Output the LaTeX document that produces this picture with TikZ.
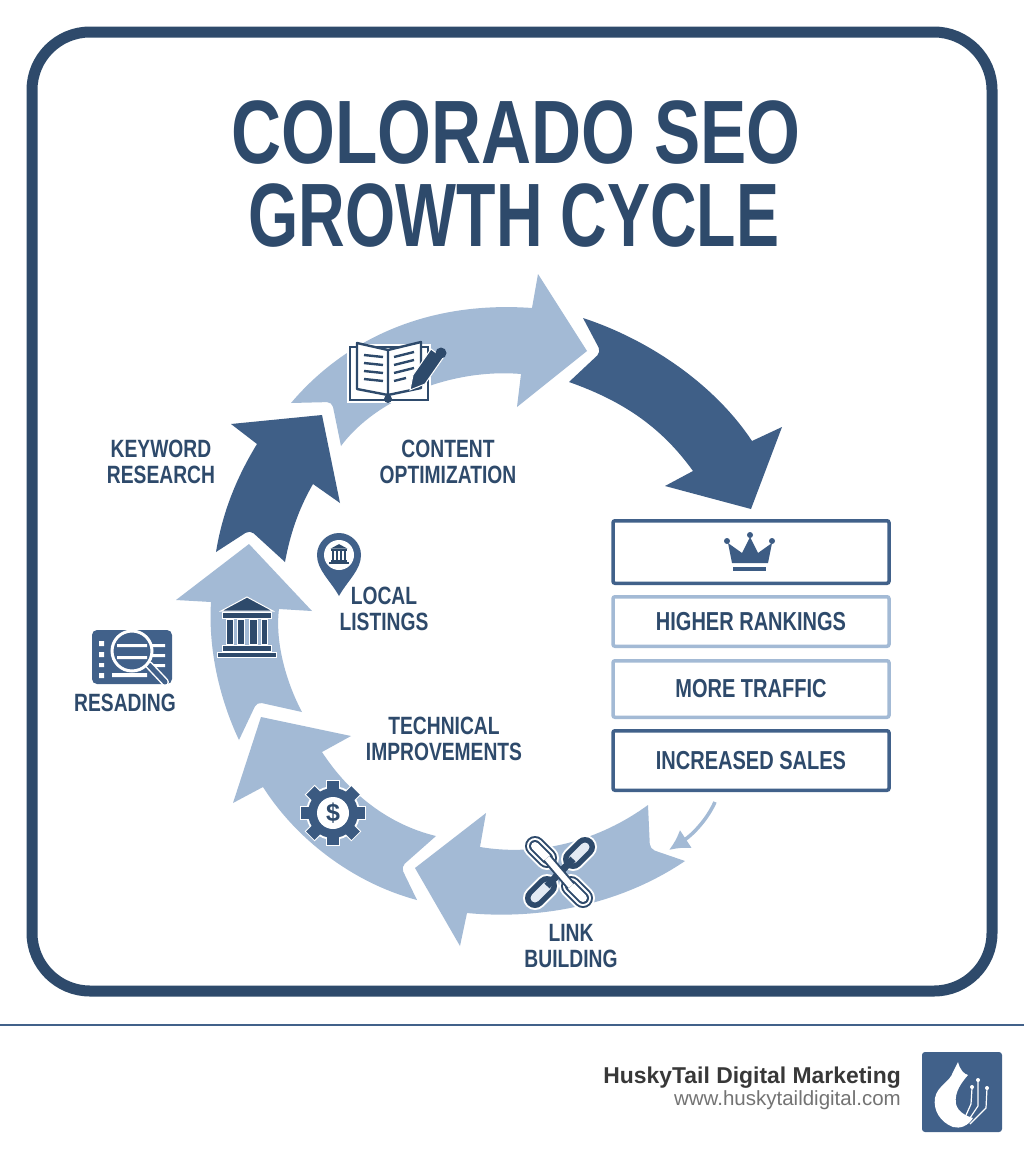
\documentclass[tikz,border=0pt]{standalone}
\usepackage{fontspec}
\setmainfont{Liberation Sans}
\newfontfamily\headfont[FakeStretch=0.77]{Liberation Sans}
\newfontfamily\narrowfont[FakeStretch=0.717]{Liberation Sans}
\usepackage{tikz}
\usetikzlibrary{arrows.meta,positioning}
\definecolor{navy}{HTML}{2E4A6B}
\definecolor{steel}{HTML}{41618A}
\definecolor{sky}{HTML}{A3BAD5}
\tikzset{
    %Define style for the cycle arrows
    lightarrow/.style={fill=sky, draw=none},
    darkarrow/.style={fill=steel!90!navy, draw=none},
    %Define style for text
    titletext/.style={
           text=navy,
           inner sep=0pt,
           font=\headfont\bfseries\fontsize{90}{90}\selectfont},
    steplabel/.style={
           text=navy,
           align=center,
           inner sep=0pt,
           font=\headfont\bfseries\fontsize{25}{26}\selectfont},
    %Define style for boxes
    darkbox/.style={
           rectangle,
           rounded corners=2pt,
           draw=steel, line width=3.5pt,
           minimum width=276pt,
           text=navy,
           font=\headfont\bfseries\fontsize{26}{26}\selectfont},
    lightbox/.style={
           darkbox,
           draw=sky},
    %Define style for icons
    iconline/.style={draw=navy, line width=2.4pt},
    bankpart/.style={fill=navy, draw=white, line width=1pt},
    chainhalo/.style={draw=white, line width=24pt, line cap=round},
    chaindark/.style={draw=navy, line width=20pt, line cap=round},
    bankicon/.pic={
           \path[bankpart] (0,-33) -- (-26,-19) -- (26,-19) -- cycle;
           \path[bankpart] (-25,-18) rectangle (24,-12);
           \path[bankpart] (-21,-11) rectangle (-14,14);
           \path[bankpart] (-10,-11) rectangle (-3,14);
           \path[bankpart] (2,-11) rectangle (10,14);
           \path[bankpart] (14,-11) rectangle (20,14);
           \path[bankpart] (-25,15) rectangle (24,21);
           \path[bankpart] (-30,22) rectangle (29,27);}
}

\begin{document}
\begin{tikzpicture}[x=1pt,y=-1pt]
\useasboundingbox (0,0) rectangle (1024,1154);
\fill[white] (0,0) rectangle (1024,1154);
\draw[navy, line width=11pt, rounded corners=58pt] (32,32) rectangle (992,991);
\node[titletext](title1) at (516,133){COLORADO SEO};
\node[titletext, font=\narrowfont\bfseries\fontsize{90}{90}\selectfont](title2) at (514,216){GROWTH CYCLE};
% cycle arrows
\fill[lightarrow] (538,274) -- (587,351) -- (517,407) -- (521,374)
    .. controls (450,368) and (375,400) .. (341,446) [rounded corners=5pt] -- (332,402) [sharp corners] -- (291,403)
    .. controls (340,345) and (420,300) .. (532,308) -- cycle;
\fill[darkarrow] (583,318) .. controls (650,340) and (715,385) .. (752,441)
    -- (782,427) -- (751,509) -- (665,486) -- (693,471)
    .. controls (660,425) and (620,400) .. (569,382) [rounded corners=5pt] -- (601,352) [sharp corners] -- cycle;
\fill[darkarrow] (322,415) -- (231,424) -- (257,444)
    .. controls (235,480) and (222,515) .. (216,552) [rounded corners=5pt] -- (250,530) [sharp corners] -- (285,562)
    .. controls (290,535) and (298,510) .. (313,484) -- (340,503) -- cycle;
\fill[lightarrow] (249,544) -- (176,600) -- (211,602)
    .. controls (208,650) and (220,700) .. (239,740) [rounded corners=5pt] -- (257,702) [sharp corners] -- (302,712)
    .. controls (285,680) and (275,640) .. (279,609) -- (312,611) -- cycle;
\fill[lightarrow] (261,717) -- (351,736) -- (322,752)
    .. controls (350,795) and (390,825) .. (436,836) [rounded corners=5pt] -- (401,867) [sharp corners] -- (417,900)
    .. controls (360,885) and (300,845) .. (263,787) -- (233,803) -- cycle;
\fill[lightarrow] (415,868) -- (486,813) -- (480,847)
    .. controls (540,857) and (600,840) .. (648,805) [rounded corners=5pt] -- (650,849) [sharp corners] -- (685,861)
    .. controls (620,905) and (540,920) .. (467,913) -- (460,946) -- cycle;
% result boxes
\node[darkbox, minimum height=62.5pt](crownbox) at (751,552){};
\node[lightbox, minimum height=49.5pt, below=10pt of crownbox](rankbox){HIGHER RANKINGS};
\node[lightbox, minimum height=56.5pt, below=11pt of rankbox](trafficbox){MORE TRAFFIC};
\node[darkbox, minimum height=59.5pt, below=10pt of trafficbox](salesbox){INCREASED SALES};
\coordinate (swoopstart) at (715,802);
\coordinate (swoopend) at (669,850);
\draw[sky, line width=3.5pt, -{Latex[length=20pt,width=22pt]}] (swoopstart)
    .. controls (707,820) and (692,835) .. (swoopend);
% crown
\fill[steel!80!navy] (732,563) -- (728,543) -- (742,553) -- (750,537) -- (758,553)
    -- (772,543) -- (768,563) -- cycle;
\fill[steel!80!navy] (727,541) circle (3pt) (750,535) circle (3pt) (772,541) circle (3pt);
\fill[steel!80!navy] (733,567) rectangle (766,571);
% step labels
\node[steplabel](keyword) at (161,462){KEYWORD\\RESEARCH};
\node[steplabel](content) at (448,462){CONTENT\\OPTIMIZATION};
\node[steplabel](local) at (384,609){LOCAL\\LISTINGS};
\node[steplabel](resading) at (125,703){RESADING};
\node[steplabel](technical) at (444,739){TECHNICAL\\IMPROVEMENTS};
\node[steplabel](link) at (571,946){LINK\\BUILDING};
% book and pen
\fill[white] (347,344) rectangle (431,403);
\draw[iconline] (350,347) rectangle (428,400);
\draw[iconline, fill=white, line join=round] (357,343) -- (388,350) -- (421,342) -- (421,388)
    -- (388,395) -- (357,389) -- cycle (388,350) -- (388,395);
\draw[iconline] (364,355) -- (383,357) (364,363) -- (383,365) (364,371) -- (383,373) (364,379) -- (383,381);
\draw[iconline] (394,357) -- (414,352) (394,365) -- (414,360) (394,373) -- (414,368) (394,381) -- (406,378);
\draw[fill=navy, draw=white, line width=1pt] (410,390) -- (413,375) -- (431,349) -- (443,358) -- (425,384) -- cycle;
\fill[navy] (441,353) circle (5.5pt);
\fill[navy] (388,399) circle (4pt);
% pin
\fill[steel] (339,596) .. controls (330,580) and (317,570) .. (317,555)
    .. controls (317,543) and (327,533) .. (339,533) .. controls (351,533) and (361,543) .. (361,555)
    .. controls (361,570) and (348,580) .. (339,596) -- cycle;
\fill[white] (339,555) circle (15pt);
\pic[scale=0.33, bankpart/.append style={draw=none}] at (339,555) {bankicon};
% bank
\pic at (247,630) {bankicon};
% list and magnifier
\fill[steel, rounded corners=5pt] (92,630) rectangle (172,684);
\fill[white] (99,641) rectangle (104,646) (99,652) rectangle (104,657) (99,663) rectangle (104,667) (99,673) rectangle (104,678);
\fill[white] (150,644) rectangle (165,647) (150,654) rectangle (165,657) (150,664) rectangle (165,667) (112,673) rectangle (147,677);
\draw[white, line width=8pt, line cap=round] (149,665) -- (165,682);
\draw[steel, line width=5pt, line cap=round] (149,665) -- (165,682);
\draw[white, line width=3pt, fill=steel] (132,651) circle (20pt);
\fill[white] (117,644) rectangle (147,647) (117,656) rectangle (147,659);
% gear
\begin{scope}[shift={(333,813)}]
\foreach \a in {0,45,...,315}
    \draw[white, line width=14pt] (\a:20) -- (\a:33);
\fill[white] (0,0) circle (27pt);
\fill[steel!70!navy] (0,0) circle (25pt);
\foreach \a in {0,45,...,315}
    \draw[steel!70!navy, line width=12pt] (\a:20) -- (\a:32);
\fill[white] (0,0) circle (16pt);
\node[text=navy, inner sep=0pt, font=\bfseries\fontsize{25}{25}\selectfont](dollar) at (0,0){\$};
\end{scope}
% chain
\foreach \sx/\sy/\ex/\ey in {585/847/573/859,547/886/535/898}{
    \draw[chainhalo] (\sx,\sy) -- (\ex,\ey);
    \draw[chaindark] (\sx,\sy) -- (\ex,\ey);
    \draw[white!70!sky, line width=9pt, line cap=round] (\sx,\sy) -- (\ex,\ey);}
\foreach \sx/\sy/\ex/\ey in {535/846/547/858,571/886/583/898}{
    \draw[chainhalo] (\sx,\sy) -- (\ex,\ey);
    \draw[chaindark] (\sx,\sy) -- (\ex,\ey);
    \draw[white, line width=16pt, line cap=round] (\sx,\sy) -- (\ex,\ey);
    \draw[navy, line width=12pt, line cap=round] (\sx,\sy) -- (\ex,\ey);
    \draw[white, line width=8pt, line cap=round] (\sx,\sy) -- (\ex,\ey);}
\draw[navy, line width=7pt] (573,859) -- (547,886);
\draw[navy, line width=10pt] (547,858) -- (571,886);
\draw[white, line width=6pt] (547,858) -- (571,886);
% footer
\draw[steel, line width=2.5pt] (0,1025) -- (1024,1025);
\node[anchor=east, inner sep=0pt, text=black!78, font=\bfseries\fontsize{22.9}{24}\selectfont](brand) at (901,1078){HuskyTail Digital Marketing};
\node[anchor=east, inner sep=0pt, text=black!55, font=\fontsize{20.5}{21}\selectfont](site) at (901,1100){www.huskytaildigital.com};
\fill[steel, rounded corners=3pt] (922,1052) rectangle (1002,1132);
\fill[white] (958,1062) .. controls (960,1070) and (964,1074) .. (968,1075)
    .. controls (962,1082) and (954,1092) .. (956,1104) .. controls (958,1112) and (966,1116) .. (973,1118)
    .. controls (968,1126) and (960,1129) .. (953,1127) .. controls (940,1122) and (933,1110) .. (935,1098)
    .. controls (937,1086) and (950,1082) .. (953,1072) -- cycle;
\draw[white, line width=1.2pt] (972,1088) -- (971,1104) -- (963,1122) (978,1081) -- (978,1106) -- (966,1124) (987,1088) -- (986,1108) -- (970,1124);
\fill[white] (972,1087) circle (2pt) (978,1080) circle (2pt) (987,1088) circle (2pt);
\end{tikzpicture}
\end{document}
